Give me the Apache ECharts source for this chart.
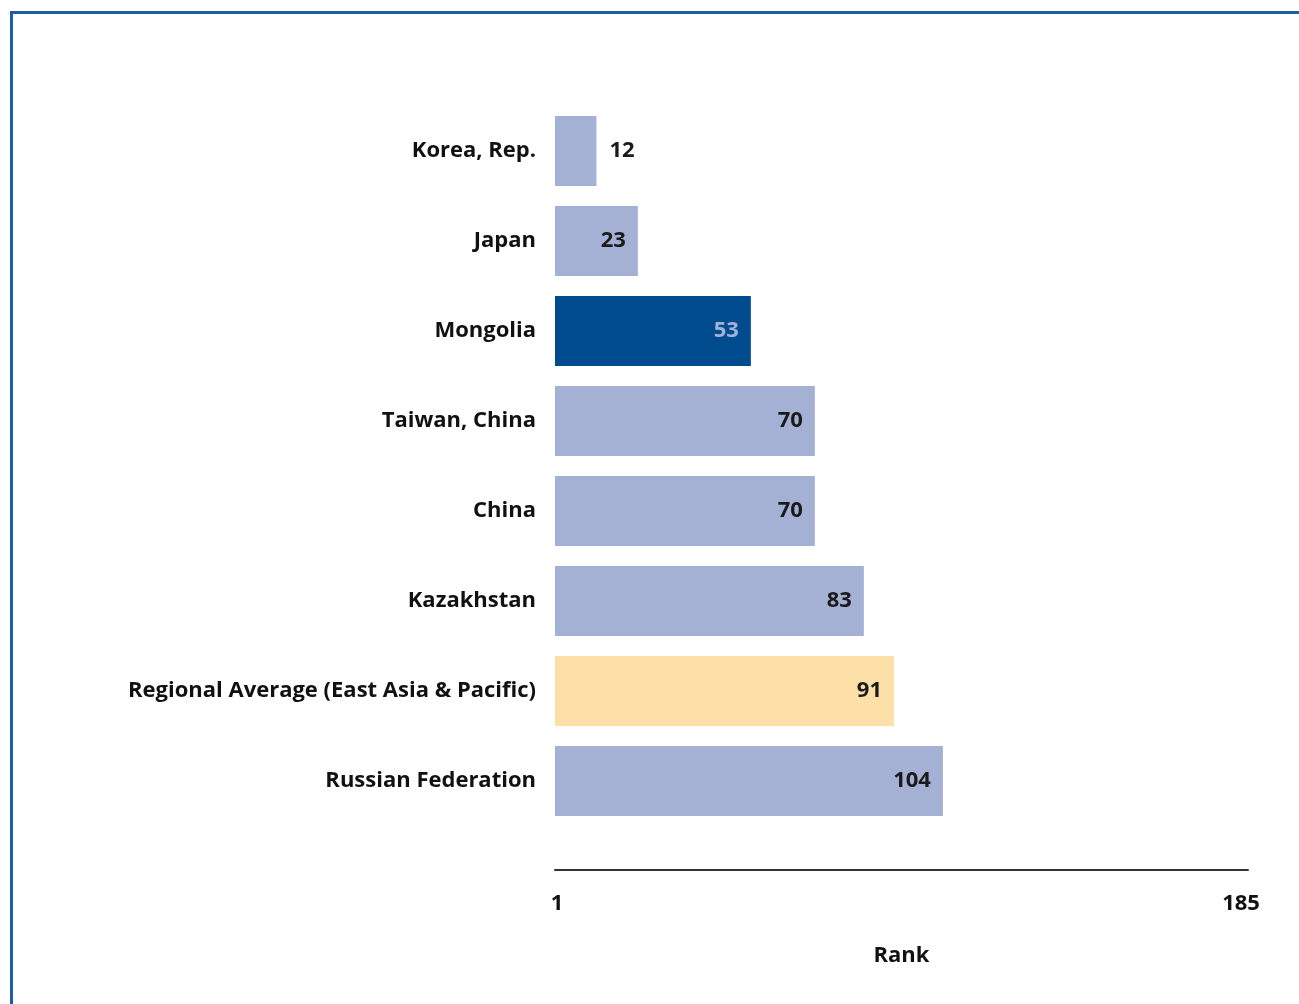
<!DOCTYPE html>
<html><head><meta charset="utf-8">
<script src="https://cdn.jsdelivr.net/npm/echarts@6/dist/echarts.min.js"></script>
<style>
html,body{margin:0;padding:0;background:#fff;}
#frame{position:absolute;left:10px;top:11px;width:1300px;height:1000px;border-left:3px solid #1d5da3;border-top:3px solid #1d5da3;box-sizing:border-box;}
#chart{position:absolute;left:0;top:0;width:1299px;height:1004px;}
</style></head>
<body>
<div id="frame"></div>
<div id="chart"></div>
<script>
const categories = ["Korea, Rep.","Japan","Mongolia","Taiwan, China","China","Kazakhstan","Regional Average (East Asia & Pacific)","Russian Federation"];
const ranks = [12,23,53,70,70,83,91,104];
const tickLabels = [1,185];

const colorDefault = '#a5b1d4';
const colorHighlight = '#004a8e';
const colorRegional = '#fddfa8';

const data = ranks.map((v,i)=>{
  const c = categories[i];
  let color = colorDefault, lblColor = '#1a1a1a';
  if (c === 'Mongolia') { color = colorHighlight; lblColor = '#9fb3d9'; }
  if (c.startsWith('Regional')) color = colorRegional;
  const item = {value: v, itemStyle:{color}, label:{color:lblColor}};
  if (v < 18) item.label = {position:'right', distance:13, color:lblColor};
  return item;
});

const chart = echarts.init(document.getElementById('chart'));
const font = '"Open Sans", sans-serif';
const fs = 22;
chart.setOption({
  animation:false,
  grid:{left:555,right:51,top:106,height:720},
  xAxis:{type:'value',min:tickLabels[0],max:tickLabels[1],interval:tickLabels[1]-tickLabels[0],
    offset:44,
    axisLine:{show:true,lineStyle:{color:'#333',width:2}},
    axisTick:{show:false},splitLine:{show:false},
    axisLabel:{margin:23,
      formatter:(v)=> v===tickLabels[0] ? '{min|'+v+'}' : '{max|'+v+'}',
      rich:{
        min:{color:'#111',fontFamily:font,fontWeight:'bold',fontSize:fs,padding:[0,0,0,4]},
        max:{color:'#111',fontFamily:font,fontWeight:'bold',fontSize:fs,padding:[0,14,0,0]}
      }},
    name:'Rank',nameLocation:'middle',nameGap:75,
    nameTextStyle:{color:'#111',fontFamily:font,fontWeight:'bold',fontSize:fs}},
  yAxis:{type:'category',data:categories,inverse:true,
    axisLine:{show:false},axisTick:{show:false},
    axisLabel:{color:'#111',fontFamily:font,fontWeight:'bold',fontSize:fs,margin:19,padding:[4,0,0,0]}},
  series:[{type:'bar',data:data,barWidth:70,
    label:{show:true,position:'insideRight',distance:12,fontFamily:font,fontWeight:'bold',fontSize:fs,padding:[4,0,0,0]}}]
});
</script>
</body></html>
